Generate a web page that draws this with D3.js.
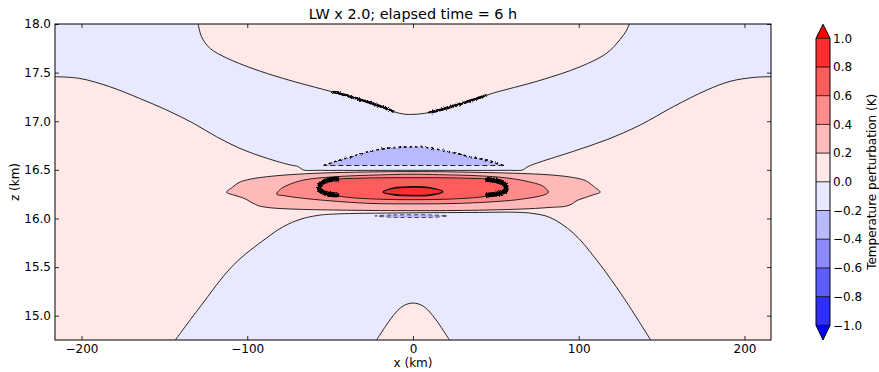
<!DOCTYPE html>
<html>
<head>
<meta charset="utf-8">
<script src="https://cdn.jsdelivr.net/npm/d3@7"></script>
<style>
  body { margin: 0; background: #fff; }
  svg text { font-family: "DejaVu Sans", sans-serif; fill: #000; }
</style>
</head>
<body>
<svg id="chart" width="879" height="372"></svg>
<script>
// ---- axes and levels ----
const xTicks = [-200, -100, 0, 100, 200];
const zTicks = [15.0, 15.5, 16.0, 16.5, 17.0, 17.5, 18.0];
const levels = [-1.0, -0.8, -0.6, -0.4, -0.2, 0.0, 0.2, 0.4, 0.6, 0.8, 1.0];
const xDomain = [-216, 216];
const zDomain = [14.75, 18.0];

// ---- contour geometry, [x (km), z (km)] ----
// 0 K contour bounding the warm cap at the top
const capContour = [[-129.6,18.0],[-127.6,17.87],[-122.5,17.75],[-112.4,17.65],[-96.4,17.54],[-78.3,17.44],
  [-48.1,17.30],[-38,17.255],[-27.9,17.20],[-19,17.15],[-11.9,17.10],[-5,17.072],[4,17.075],[10,17.09],
  [16.3,17.115],[26,17.165],[36.4,17.22],[44,17.264],[48.5,17.29],[76.6,17.42],[100.8,17.56],[116.9,17.70],
  [124.9,17.84],[129,17.94],[130.5,18.0]];
// stretches of the cap contour that are noisy
const noisyCapStretches = [[-49, -10], [9, 46]];
// 0 K contour under the upper cool band
const upperBandBottom = [[-216,17.458],[-201,17.44],[-183,17.355],[-165,17.235],[-148.6,17.115],[-132.6,16.98],
  [-118.5,16.84],[-104.4,16.72],[-88.3,16.62],[-74,16.55],[-69.5,16.535],[-67.5,16.512],[-66,16.498],[-56,16.495],
  [0,16.495],[56,16.495],[66,16.498],[67.5,16.512],[69.5,16.535],[76.6,16.58],[96.7,16.69],[116.9,16.81],
  [137,16.96],[157.1,17.15],[177.2,17.32],[191.3,17.41],[205.4,17.45],[216,17.458]];
// 0 K contour on top of the lower cool band
const lowerBandTop = [[-143.4,14.75],[-128.5,15.09],[-108.4,15.52],[-88.3,15.80],[-78.3,15.915],[-68.2,15.99],
  [-58,16.03],[-48,16.045],[0,16.058],[40,16.062],[62,16.064],[72,16.052],[82.7,16.01],[96.7,15.85],
  [110.9,15.57],[126.9,15.19],[143.4,14.75]];
// 0 K contour of the warm bump at the bottom
const bumpContour = [[-22,14.75],[-17,14.88],[-12,15.0],[-6,15.10],[0,15.13],[6,15.10],[12,15.0],[17,14.88],[22,14.75]];
// -0.2 K dome above the warm layer (flat base)
const domeTop = [[-54,16.545],[-46,16.59],[-36,16.64],[-26,16.69],[-16,16.72],[-4,16.735],[4,16.735],[18,16.70],
  [34.4,16.635],[46.5,16.59],[54.5,16.545]];
// -0.2 K sliver below the warm layer
const coolSliver = [[-23,16.026],[-12,16.036],[0,16.038],[12,16.036],[21,16.027],[12,16.012],[0,16.010],[-12,16.012]];
// warm layer contours: 0.2, 0.4, 0.6, 0.8 K
const warm02 = [[-112.5,16.27],[-109,16.32],[-105,16.37],[-98,16.405],[-85,16.435],[-70,16.455],[-50,16.47],
  [-20,16.48],[0,16.482],[20,16.48],[50,16.47],[70,16.46],[85,16.445],[97,16.42],[104,16.39],[109,16.33],
  [112.9,16.27],[109,16.245],[104,16.215],[99,16.185],[96,16.15],[92,16.125],[84,16.115],[70,16.10],[40,16.085],
  [0,16.08],[-40,16.085],[-70,16.095],[-86,16.11],[-93,16.13],[-97,16.16],[-101,16.2],[-105,16.225],[-109,16.245]];
const warm04 = [[-82.3,16.25],[-80,16.30],[-76,16.34],[-66,16.395],[-46,16.43],[-16,16.45],[0,16.455],[16,16.45],
  [38,16.44],[55,16.42],[65,16.395],[74,16.36],[78.6,16.33],[81.7,16.27],[78.6,16.24],[70,16.21],[58.5,16.185],
  [28,16.155],[0,16.15],[-26,16.155],[-56,16.19],[-70,16.215],[-78,16.235]];
const warm06 = [[-57,16.32],[-55,16.37],[-48,16.40],[-30,16.415],[0,16.42],[30,16.415],[48,16.40],[55,16.37],
  [57,16.32],[55,16.27],[48,16.24],[38,16.215],[20,16.198],[0,16.193],[-20,16.198],[-38,16.215],[-48,16.24],[-55,16.27]];
const warm08 = [[-18,16.27],[-12,16.31],[0,16.325],[10,16.315],[18,16.275],[10,16.24],[0,16.235],[-12,16.245]];
// noisy ends of the 0.6 K contour
const warm06NoisyEnds = [
  [[-46,16.405],[-52,16.39],[-56,16.35],[-56,16.29],[-52,16.255],[-46,16.24]],
  [[45,16.40],[51,16.385],[55.5,16.35],[56,16.29],[51,16.255],[45,16.24]]
];

// ---- drawing ----
const svg = d3.select("#chart");
const plot = { left: 55, right: 771, top: 24, bottom: 340 };
const x = d3.scaleLinear().domain(xDomain).range([plot.left, plot.right]);
const z = d3.scaleLinear().domain(zDomain).range([plot.bottom, plot.top]);

// bwr colour map sampled at 12 positions (10 bands plus under/over)
const bwr = d3.scaleLinear().domain([0, 0.5, 1]).range(["#0000ff", "#ffffff", "#ff0000"]);
const nColors = levels.length + 1;
const bandColor = lo => bwr((Math.round((lo - levels[0]) / 0.2) + 1) / (nColors - 1));
const underColor = bwr(0), overColor = bwr(1);

const line = d3.line().x(d => x(d[0])).y(d => z(d[1])).curve(d3.curveCatmullRom.alpha(0.5));
const loop = d3.line().x(d => x(d[0])).y(d => z(d[1])).curve(d3.curveCatmullRomClosed.alpha(0.5));

// join curves and corner points into one closed region
function region(parts) {
  return parts.map((p, i) => {
    const s = Array.isArray(p[0]) ? line(p) : `M${x(p[0])},${z(p[1])}`;
    return i ? s.replace(/^M/, "L") : s;
  }).join("") + "Z";
}

const defs = svg.append("defs");
defs.append("clipPath").attr("id", "plotClip")
  .append("rect").attr("x", plot.left).attr("y", plot.top)
  .attr("width", plot.right - plot.left).attr("height", plot.bottom - plot.top);
// roughens the noisy parts of the contours
const rough = defs.append("filter").attr("id", "rough")
  .attr("x", "-20%").attr("y", "-100%").attr("width", "140%").attr("height", "300%");
rough.append("feTurbulence").attr("type", "fractalNoise").attr("baseFrequency", 0.8)
  .attr("numOctaves", 2).attr("seed", 4).attr("result", "noise");
rough.append("feDisplacementMap").attr("in", "SourceGraphic").attr("in2", "noise")
  .attr("scale", 3).attr("xChannelSelector", "R").attr("yChannelSelector", "G");

const field = svg.append("g").attr("clip-path", "url(#plotClip)");

// filled bands
field.append("rect").attr("x", plot.left).attr("y", plot.top)
  .attr("width", plot.right - plot.left).attr("height", plot.bottom - plot.top)
  .attr("fill", bandColor(0.0));
const fills = [
  { lo: -0.2, d: region([capContour, [xDomain[1], zDomain[1]], upperBandBottom.slice().reverse(), [xDomain[0], zDomain[1]]]) },
  { lo: -0.2, d: region([lowerBandTop]) },
  { lo: 0.0, d: region([bumpContour]) },
  { lo: -0.4, d: region([domeTop]) },
  { lo: -0.4, d: loop(coolSliver) },
  { lo: 0.2, d: loop(warm02) },
  { lo: 0.4, d: loop(warm04) },
  { lo: 0.6, d: loop(warm06) },
  { lo: 0.8, d: loop(warm08) }
];
field.selectAll("path.band").data(fills).join("path")
  .attr("class", "band").attr("d", d => d.d).attr("fill", d => bandColor(d.lo));

// contour lines
const solid = [line(capContour), line(upperBandBottom), line(lowerBandTop), line(bumpContour),
  loop(warm02), loop(warm04), loop(warm06)];
field.selectAll("path.solid").data(solid).join("path")
  .attr("class", "solid").attr("d", d => d)
  .attr("fill", "none").attr("stroke", "#111").attr("stroke-width", 0.9);
field.append("path").attr("d", loop(warm08))
  .attr("fill", "none").attr("stroke", "#111").attr("stroke-width", 1.6);

// noisy stretches drawn heavier and roughened
const noisy = field.append("g").attr("filter", "url(#rough)");
noisyCapStretches.forEach(([a, b]) => {
  noisy.append("path").attr("d", line(capContour.filter(p => p[0] >= a && p[0] <= b)))
    .attr("fill", "none").attr("stroke", "#000").attr("stroke-width", 2.6).attr("stroke-linecap", "round");
});
warm06NoisyEnds.forEach(seg => {
  noisy.append("path").attr("d", line(seg))
    .attr("fill", "none").attr("stroke", "#000").attr("stroke-width", 5).attr("stroke-linecap", "round");
});

// negative contours dashed
noisy.append("path").attr("d", line(domeTop))
  .attr("fill", "none").attr("stroke", "#000").attr("stroke-width", 1.6).attr("stroke-dasharray", "3,2.5");
field.append("path").attr("d", line([domeTop[domeTop.length - 1], domeTop[0]]))
  .attr("fill", "none").attr("stroke", "#222").attr("stroke-width", 1.1).attr("stroke-dasharray", "5,3");
field.append("path").attr("d", loop(coolSliver))
  .attr("fill", "none").attr("stroke", "#333").attr("stroke-width", 0.9).attr("stroke-dasharray", "4,3");

// axes
function styleAxis(g) {
  g.select(".domain").remove();
  g.selectAll(".tick line").attr("stroke", "#000").attr("stroke-width", 0.8);
  g.selectAll("text").attr("font-size", 12).attr("font-family", "DejaVu Sans, sans-serif");
}
svg.append("g").attr("transform", `translate(0,${plot.bottom})`)
  .call(d3.axisBottom(x).tickValues(xTicks).tickSize(-4).tickPadding(4.5).tickFormat(d3.format("d"))).call(styleAxis);
svg.append("g").attr("transform", `translate(0,${plot.top})`)
  .call(d3.axisTop(x).tickValues(xTicks).tickSize(-4).tickFormat("")).call(styleAxis);
svg.append("g").attr("transform", `translate(${plot.left},0)`)
  .call(d3.axisLeft(z).tickValues(zTicks).tickSize(-4).tickPadding(4).tickFormat(d3.format(".1f"))).call(styleAxis);
svg.append("g").attr("transform", `translate(${plot.right},0)`)
  .call(d3.axisRight(z).tickValues(zTicks).tickSize(-4).tickFormat("")).call(styleAxis);
svg.append("rect").attr("x", plot.left).attr("y", plot.top)
  .attr("width", plot.right - plot.left).attr("height", plot.bottom - plot.top)
  .attr("fill", "none").attr("stroke", "#000").attr("stroke-width", 1);

// titles and labels
svg.append("text").attr("x", (plot.left + plot.right) / 2).attr("y", 18.5)
  .attr("text-anchor", "middle").attr("font-size", 14.4).text("LW x 2.0; elapsed time = 6 h");
svg.append("text").attr("x", (plot.left + plot.right) / 2).attr("y", 366.5)
  .attr("text-anchor", "middle").attr("font-size", 12).text("x (km)");
svg.append("text").attr("transform", `translate(19,${(plot.top + plot.bottom) / 2}) rotate(-90)`)
  .attr("text-anchor", "middle").attr("font-size", 12).text("z (km)");

// colour bar
const cb = { x: 816, w: 14, top: 38.3, bottom: 325.3, tipTop: 24.3, tipBottom: 340 };
const cbScale = d3.scaleLinear().domain([levels[0], levels[levels.length - 1]]).range([cb.bottom, cb.top]);
const cbg = svg.append("g");
const bands = levels.slice(0, -1).map((lo, i) => ({ lo, hi: levels[i + 1] }));
cbg.selectAll("rect").data(bands).join("rect")
  .attr("x", cb.x).attr("width", cb.w)
  .attr("y", d => cbScale(d.hi)).attr("height", d => cbScale(d.lo) - cbScale(d.hi))
  .attr("fill", d => bandColor(d.lo));
cbg.append("path").attr("d", `M${cb.x},${cb.top}L${cb.x + cb.w / 2},${cb.tipTop}L${cb.x + cb.w},${cb.top}Z`).attr("fill", overColor);
cbg.append("path").attr("d", `M${cb.x},${cb.bottom}L${cb.x + cb.w / 2},${cb.tipBottom}L${cb.x + cb.w},${cb.bottom}Z`).attr("fill", underColor);
cbg.selectAll("line").data(levels).join("line")
  .attr("x1", cb.x).attr("x2", cb.x + cb.w).attr("y1", d => cbScale(d)).attr("y2", d => cbScale(d))
  .attr("stroke", "#000").attr("stroke-width", 0.8);
cbg.append("path")
  .attr("d", `M${cb.x},${cb.top}L${cb.x + cb.w / 2},${cb.tipTop}L${cb.x + cb.w},${cb.top}L${cb.x + cb.w},${cb.bottom}` +
             `L${cb.x + cb.w / 2},${cb.tipBottom}L${cb.x},${cb.bottom}Z`)
  .attr("fill", "none").attr("stroke", "#000").attr("stroke-width", 1);
cbg.selectAll("text.cbtick").data(levels).join("text").attr("class", "cbtick")
  .attr("x", cb.x + cb.w + 3).attr("y", d => cbScale(d)).attr("dy", "0.35em")
  .attr("font-size", 12).text(d => d3.format(".1f")(d));
svg.append("text").attr("transform", `translate(875.5,${(cb.top + cb.bottom) / 2}) rotate(-90)`)
  .attr("text-anchor", "middle").attr("font-size", 12).text("Temperature perturbation (K)");
</script>
</body>
</html>
